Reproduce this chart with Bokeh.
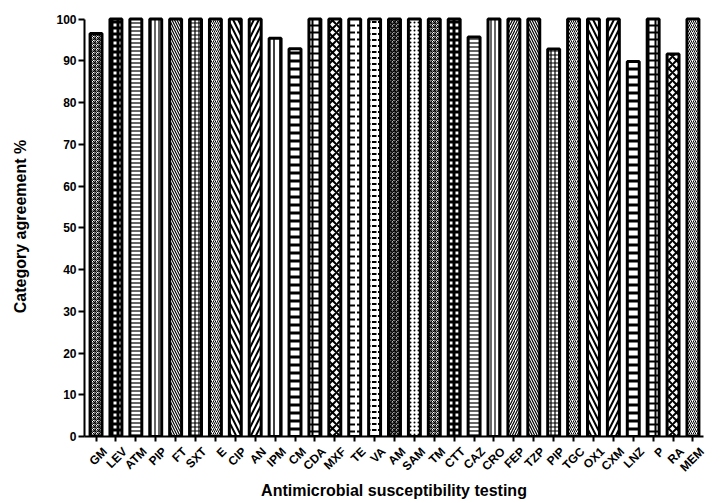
import math
from bokeh.plotting import figure
from bokeh.models import (ColumnDataSource, Range1d, FixedTicker, LinearAxis,
                          CustomJSTickFormatter)
from bokeh.embed import file_html
from bokeh.resources import INLINE

categories = ["GM", "LEV", "ATM", "PIP", "FT", "SXT", "E", "CIP", "AN", "IPM", "CM", "CDA",
              "MXF", "TE", "VA", "AM", "SAM", "TM", "CTT", "CAZ", "CRO", "FEP", "TZP", "PIP",
              "TGC", "OX1", "CXM", "LNZ", "P", "RA", "MEM"]
agreement = [96.5, 100, 100, 100, 100, 100, 100, 100, 100, 95.4, 92.9, 100,
             100, 100, 100, 100, 100, 100, 100, 95.7, 100, 100, 100, 92.8,
             100, 100, 100, 89.8, 100, 91.6, 100]
y_ticks = [0, 10, 20, 30, 40, 50, 60, 70, 80, 90, 100]

# hatch styles per bar
patterns = ["criss_cross", "cross", "horizontal_line", "vertical_line", "left_diagonal_line", "cross",
            "right_diagonal_line", "left_diagonal_line", "right_diagonal_line", "vertical_line",
            "horizontal_line", "cross", "diagonal_cross", "horizontal_dash", "horizontal_dash",
            "criss_cross", "dot", "criss_cross", "cross", "horizontal_line", "vertical_line",
            "right_diagonal_line", "left_diagonal_line", "cross", "right_diagonal_line",
            "left_diagonal_line", "right_diagonal_line", "horizontal_line", "cross",
            "diagonal_cross", "right_diagonal_line"]
scales = [4, 6, 4, 4, 5, 4, 4, 10, 10, 6, 8, 7, 8, 7, 6, 4, 4, 4, 6, 4, 4, 5, 5, 4, 4,
          10, 10, 8, 7, 8, 4]
weights = [1, 3, 1.2, 1.2, 1.2, 1.2, 1, 2, 2, 1.5, 3, 2, 2, 2, 2, 1.2, 0.7, 1, 3, 1.2, 1.2,
           1.2, 1.2, 1.2, 1, 2, 2, 3, 2, 2, 1]

x = list(range(len(categories)))
src = ColumnDataSource(dict(x=x, top=agreement, pat=patterns, sc=scales, wt=weights))

p = figure(width=720, height=503, output_backend="svg", toolbar_location=None,
           x_range=Range1d(-0.58, 30.53), y_range=Range1d(0, 100.6),
           min_border_left=84, min_border_right=17, min_border_top=16, min_border_bottom=67)
p.background_fill_color = "white"
p.outline_line_color = None
p.xgrid.grid_line_color = None
p.ygrid.grid_line_color = None

p.vbar(x="x", top="top", bottom=0, width=0.6, source=src,
       fill_color="white", line_color="black", line_width=3,
       hatch_pattern="pat", hatch_scale="sc", hatch_weight="wt", hatch_color="black")

font = "Liberation Sans"
ya = p.yaxis[0]
ya.ticker = FixedTicker(ticks=y_ticks)
ya.bounds = (0, 100)
ya.axis_line_width = 2
ya.major_tick_line_width = 2
ya.major_tick_out = 6
ya.major_tick_in = 0
ya.minor_tick_line_color = None
ya.major_label_text_font = font
ya.major_label_text_font_style = "bold"
ya.major_label_text_font_size = "12px"
ya.major_label_text_color = "black"
ya.major_label_standoff = 2
ya.axis_label = "Category agreement %"
ya.axis_label_text_font = font
ya.axis_label_text_font_style = "bold"
ya.axis_label_text_font_size = "16px"
ya.axis_label_text_color = "black"
ya.axis_label_standoff = 24

xa = p.xaxis[0]
xa.ticker = FixedTicker(ticks=x)
xa.formatter = CustomJSTickFormatter(code="return '';")
xa.axis_line_width = 2
xa.major_tick_line_width = 2
xa.major_tick_out = 5
xa.major_tick_in = 0
xa.minor_tick_line_color = None
xa.major_label_text_font_size = "1px"
xa.major_label_standoff = 0

shift = 0.45
lab_axis = LinearAxis(ticker=FixedTicker(ticks=[i + shift for i in x]),
                      formatter=CustomJSTickFormatter(args=dict(labels=categories, shift=shift),
                                                      code="return labels[Math.round(tick - shift)];"))
lab_axis.axis_line_color = None
lab_axis.major_tick_line_color = None
lab_axis.minor_tick_line_color = None
lab_axis.major_tick_out = 0
lab_axis.major_tick_in = 0
lab_axis.major_label_orientation = math.pi / 4
lab_axis.major_label_text_font = font
lab_axis.major_label_text_font_style = "bold"
lab_axis.major_label_text_font_size = "12px"
lab_axis.major_label_text_color = "black"
lab_axis.major_label_standoff = 8
lab_axis.axis_label = "Antimicrobial susceptibility testing"
lab_axis.axis_label_text_font = font
lab_axis.axis_label_text_font_style = "bold"
lab_axis.axis_label_text_font_size = "16px"
lab_axis.axis_label_text_color = "black"
lab_axis.axis_label_standoff = 0
p.add_layout(lab_axis, "below")

open("out.html", "w").write(file_html(p, INLINE))
